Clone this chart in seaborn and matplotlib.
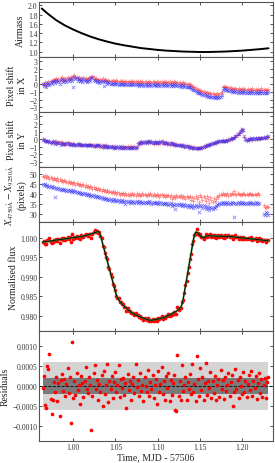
import numpy as np
import pandas as pd
import matplotlib
matplotlib.use("Agg")
import matplotlib.pyplot as plt
import seaborn as sns
from matplotlib.ticker import FormatStrFormatter, MultipleLocator

# ---------------- data ----------------
t_start, t_end, n_points = 0.964, 1.2305, 200   # MJD - 57506, regular cadence

airmass_t = [0.963, 0.97, 0.98, 0.99, 1.00, 1.01, 1.02, 1.03, 1.04, 1.05, 1.06, 1.07,
             1.08, 1.09, 1.10, 1.11, 1.12, 1.13, 1.14, 1.15, 1.16, 1.17, 1.18, 1.19,
             1.20, 1.21, 1.22, 1.231]
airmass = [1.93, 1.82, 1.68, 1.57, 1.48, 1.40, 1.33, 1.27, 1.22, 1.175, 1.14, 1.11,
           1.08, 1.06, 1.04, 1.025, 1.015, 1.005, 1.00, 0.995, 0.995, 1.00, 1.005, 1.015,
           1.025, 1.04, 1.055, 1.075]

shift_x_red = [
    0.1, 0.0, 0.3, -0.2, 0.2, 0.4, 0.1, 0.5, 0.3, 0.6,
    0.7, 0.5, 0.8, 0.6, 0.7, 0.4, 0.8, 0.9, 0.6, 0.7,
    0.8, 0.6, 0.9, 0.7, 0.8, 1.0, 0.7, 1.1, 1.2, 0.9,
    1.0, 0.8, 0.9, 0.7, 0.8, 0.6, 0.9, 0.7, 0.8, 0.6,
    0.7, 0.9, 0.8, 1.0, 1.1, 0.9, 0.7, 0.8, 0.6, 0.7,
    0.5, 0.7, 0.6, 0.8, 0.5, 0.7, 0.6, 0.4, 0.6, 0.5,
    0.5, 0.4, 0.6, 0.5, 0.4, 0.6, 0.5, 0.3, 0.5, 0.4,
    0.4, 0.5, 0.3, 0.4, 0.5, 0.3, 0.4, 0.3, 0.5, 0.4,
    0.3, 0.4, 0.5, 0.3, 0.4, 0.2, 0.4, 0.3, 0.4, 0.2,
    0.3, 0.4, 0.2, 0.3, 0.4, 0.3, 0.2, 0.4, 0.3, 0.3,
    0.2, 0.4, 0.3, 0.2, 0.3, 0.4, 0.2, 0.3, 0.5, 0.3,
    0.2, 0.3, 0.4, 0.2, 0.3, 0.2, 0.4, 0.3, 0.2, 0.3,
    0.2, 0.3, 0.1, 0.2, 0.3, 0.1, 0.2, 0.0, 0.1, 0.0,
    0.0, -0.1, -0.2, -0.3, -0.4, -0.5, -0.6, -0.7, -0.8, -0.8,
    -0.9, -1.0, -0.9, -1.0, -1.1, -1.0, -1.2, -1.1, -1.2, -1.3,
    -1.2, -1.3, -1.4, -1.3, -1.2, -1.4, -1.3, -1.2, -1.0, -0.4,
    -0.2, -0.3, -0.4, -0.3, -0.5, -0.4, -0.5, -0.6, -0.5, -0.6,
    -0.5, -0.6, -0.7, -0.5, -0.6, -0.7, -0.6, -0.5, -0.7, -0.6,
    -0.7, -0.6, -0.8, -0.6, -0.7, -0.5, -0.7, -0.8, -0.6, -0.7,
    -0.6, -0.8, -0.7, -0.5, -0.7, -0.8, -0.6, -0.7, -0.8, -0.6]

shift_x_blue = [
    0.0, -0.2, 0.1, -0.3, 0.0, 0.2, -0.1, 0.3, 0.1, 0.4,
    0.5, 0.2, 0.6, 0.3, 0.5, 0.1, 0.6, 0.7, 0.3, 0.5,
    0.6, 0.3, 0.7, 0.4, 0.6, 0.8, 0.4, -0.3, 1.0, 0.7,
    0.8, 0.5, 0.7, 0.4, 0.6, 0.3, 0.7, 0.4, 0.6, 0.3,
    0.5, 0.7, 0.5, 0.8, 0.9, 0.6, 0.4, 0.6, 0.3, 0.4,
    0.2, 0.4, 0.3, 0.5, -0.2, 0.4, 0.3, 0.1, 0.3, 0.2,
    0.1, 0.0, 0.2, 0.1, 0.0, 0.2, 0.1, -0.1, 0.1, 0.0,
    0.0, 0.1, -0.1, 0.0, 0.1, -0.1, 0.0, -0.1, 0.1, 0.0,
    -0.1, 0.0, 0.1, -0.1, 0.0, -0.2, 0.0, -0.1, 0.0, -0.2,
    -0.1, 0.0, -0.2, -0.1, 0.0, -0.1, -0.2, 0.0, -0.1, -0.1,
    -0.2, 0.0, -0.1, -0.2, -0.1, 0.0, -0.2, -0.1, 0.1, -0.1,
    -0.2, -0.1, 0.0, -0.2, -0.1, -0.2, 0.0, -0.1, -0.2, -0.1,
    -0.2, -0.1, -0.3, -0.2, -0.1, -0.3, -0.2, -0.4, -0.3, -0.4,
    -0.4, -0.5, -0.6, -0.7, -0.8, -0.9, -1.0, -1.1, -1.2, -1.2,
    -1.3, -1.4, -1.3, -1.4, -1.5, -1.4, -1.6, -1.5, -1.6, -1.7,
    -1.6, -1.7, -1.8, -1.7, -1.6, -1.8, -1.7, -1.6, -1.4, -0.8,
    -0.5, -0.6, -0.8, -0.7, -0.9, -0.8, -0.9, -1.0, -0.9, -1.0,
    -0.9, -1.0, -1.1, -0.9, -1.0, -1.1, -1.0, -0.9, -1.1, -1.0,
    -1.1, -1.0, -1.2, -1.0, -1.1, -0.9, -1.1, -1.2, -1.0, -1.1,
    -1.0, -1.2, -1.1, -0.9, -1.1, -1.2, -1.0, -1.1, -1.2, -1.0]

shift_y_red = [
    0.0, -0.1, -0.2, -0.3, -0.2, -0.4, -0.3, -0.5, -0.4, -0.3,
    -0.4, -0.5, -0.3, -0.6, -0.4, -0.5, -0.6, -0.4, -0.5, -0.7,
    -0.5, -0.6, -0.4, -0.7, -0.5, -0.6, -0.7, -0.5, -0.6, -0.8,
    -0.6, -0.7, -0.5, -0.8, -0.6, -0.7, -0.8, -0.6, -0.7, -0.9,
    -0.7, -0.8, -0.6, -0.9, -0.7, -0.8, -1.0, -0.8, -0.9, -0.7,
    -0.9, -1.0, -0.8, -1.1, -0.9, -1.0, -0.8, -1.1, -0.9, -1.0,
    -1.0, -0.9, -1.0, -1.1, -0.9, -1.0, -0.9, -1.1, -1.0, -1.0,
    -1.1, -0.9, -1.0, -1.2, -1.0, -0.9, -1.1, -1.0, -0.9, -1.1,
    -1.0, -0.9, -1.1, -1.0, -0.5, -0.4, -0.6, -0.3, -0.5, -0.4,
    -0.3, -0.5, -0.4, -0.2, -0.4, -0.5, -0.3, -0.4, -0.6, -0.3,
    -0.5, -0.4, -0.6, -0.3, -0.5, -0.2, -0.4, -0.6, -0.5, -0.4,
    -0.6, -0.5, -0.7, -0.4, -0.6, -0.7, -0.5, -0.8, -0.6, -0.7,
    -0.8, -0.7, -0.9, -0.8, -0.7, -1.0, -0.9, -0.8, -1.0, -1.1,
    -0.9, -1.0, -1.1, -1.2, -1.0, -1.1, -1.3, -1.2, -1.1, -1.2,
    -1.0, -1.1, -0.9, -1.0, -0.8, -0.7, -0.8, -0.6, -0.7, -0.5,
    -0.6, -0.5, -0.4, -0.5, -0.3, -0.4, -0.3, -0.2, -0.3, -0.1,
    -0.2, -0.3, -0.1, -0.2, 0.0, -0.1, 0.1, 0.0, 0.2, 0.3,
    0.3, 0.5, 0.6, 0.8, 1.0, 1.2, 1.4, 1.1, 0.3, -0.1,
    -0.2, 0.0, -0.1, 0.1, 0.0, -0.1, 0.1, 0.0, 0.1, 0.0,
    0.1, 0.2, 0.0, 0.1, 0.2, 0.3, 0.2, 0.3, 0.4, 0.3]

shift_y_blue = [
    -0.1, 0.0, -0.3, -0.2, -0.3, -0.3, -0.4, -0.4, -0.5, -0.4,
    -0.3, -0.6, -0.4, -0.5, -0.5, -0.4, -0.7, -0.5, -0.6, -0.6,
    -0.6, -0.5, -0.5, -0.6, -0.6, -0.7, -0.6, -0.6, -0.7, -0.7,
    -0.7, -0.6, -0.6, -0.7, -0.7, -0.8, -0.7, -0.7, -0.8, -0.8,
    -0.8, -0.7, -0.7, -0.8, -0.8, -0.9, -0.9, -0.7, -0.8, -0.8,
    -0.8, -0.9, -0.9, -1.0, -0.8, -0.9, -0.9, -1.0, -1.0, -0.9,
    -1.0, -1.0, -0.9, -1.1, -1.1, -1.0, -1.0, -1.1, -0.9, -1.0,
    -1.1, -1.1, -1.0, -1.2, -1.0, -1.1, -1.1, -1.0, -1.1, -1.1,
    -1.0, -1.1, -1.1, -1.0, -0.6, -0.5, -0.5, -0.4, -0.4, -0.5,
    -0.4, -0.4, -0.5, -0.3, -0.3, -0.4, -0.4, -0.5, -0.5, -0.4,
    -0.4, -0.5, -0.5, -0.4, -0.4, -0.3, -0.5, -0.5, -0.4, -0.5,
    -0.5, -0.6, -0.6, -0.5, -0.5, -0.6, -0.6, -0.7, -0.7, -0.8,
    -0.7, -0.8, -0.8, -0.9, -0.8, -0.9, -1.0, -0.9, -0.9, -1.0,
    -1.0, -1.1, -1.0, -1.1, -1.1, -1.2, -1.2, -1.1, -1.2, -1.1,
    -1.1, -1.0, -1.0, -0.9, -0.9, -0.8, -0.7, -0.7, -0.6, -0.6,
    -0.5, -0.5, -0.5, -0.4, -0.4, -0.3, -0.3, -0.3, -0.2, -0.2,
    -0.3, -0.2, -0.2, -0.1, -0.1, 0.0, 0.0, 0.1, 0.1, 0.2,
    0.4, 0.4, 0.7, 0.7, 0.9, 1.1, 1.3, 1.2, 0.4, 0.0,
    -0.1, -0.1, 0.0, 0.0, 0.1, 0.0, 0.0, 0.1, 0.0, 0.1,
    0.0, 0.1, 0.1, 0.2, 0.1, 0.2, 0.3, 0.2, 0.3, 0.4]

nan = float("nan")
xdiff_red = [
    49.0, 48.5, 49.5, 48.0, 49.0, 48.5, 47.5, 48.5, 48.0, 47.0,
    48.0, 47.5, 47.0, 48.0, 46.5, 47.5, 46.5, 47.0, 46.0, 47.0,
    46.5, 46.0, 45.5, 46.5, 45.5, 46.0, 45.0, 46.0, 45.5, 44.5,
    45.5, 45.0, 44.5, 45.0, 44.0, 45.0, 44.5, 43.5, 44.5, 43.5,
    44.0, 43.0, 44.0, 43.5, 42.5, 43.5, 42.5, 43.0, 42.0, 43.0,
    42.0, 42.5, 41.5, 42.5, 41.5, 42.0, 41.0, 42.0, 41.0, 41.5,
    41.0, 40.5, 41.5, 40.5, 41.0, 40.0, 41.0, 40.5, 39.5, 40.5,
    40.0, 40.5, 39.5, 40.5, 39.5, 40.0, 39.0, 40.0, 39.5, 40.5,
    39.5, 40.0, 39.0, 40.5, 39.5, 40.0, 39.0, 39.5, 40.5, 39.5,
    40.0, 39.5, 39.0, 40.0, 39.5, 40.5, 39.5, 39.0, 40.0, 39.5,
    39.0, 40.0, 39.5, 38.5, 39.5, 40.0, 39.0, 39.5, 38.5, 39.5,
    39.0, 39.5, 38.5, 39.5, 37.5, 38.5, 39.0, 38.0, 39.5, 38.5,
    39.0, 38.5, 39.5, 38.0, 39.0, 38.5, 37.5, 39.0, 38.5, 38.0,
    39.0, 37.0, 38.5, 36.5, 38.0, 39.0, 37.5, 38.5, 36.0, 39.5,
    38.5, 37.0, 39.0, 38.0, 36.5, 39.0, 37.5, 35.5, 38.5, 37.0,
    36.0, 38.0, 36.5, 37.5, 39.0, 38.5, 39.5, 40.0, 39.5, 40.5,
    39.5, 40.0, 39.5, 40.5, 39.0, 40.0, 39.5, 40.5, 40.0, 41.5,
    40.0, 39.5, 40.5, 40.0, 39.5, 40.0, 39.5, 40.5, 40.0, 39.5,
    40.0, 39.5, 40.0, 40.5, 39.5, 40.0, 39.5, 40.0, 39.5, 40.0,
    40.5, 39.5, nan, nan, nan, 34.5, 33.5, 33.0, 34.0, 33.5]

xdiff_blue = [
    45.0, 44.5, 45.0, 44.0, 44.5, 43.5, 44.0, 43.5, 44.0, 43.0,
    43.5, 38.5, 43.0, 42.5, 43.0, 42.5, 42.0, 42.5, 42.0, 42.5,
    42.0, 41.5, 42.0, 41.5, 42.0, 41.5, 41.0, 42.0, 41.0, 41.5,
    41.0, 40.5, 41.0, 40.5, 40.0, 40.5, 40.0, 40.5, 39.5, 40.0,
    39.5, 40.0, 39.0, 39.5, 39.0, 39.5, 38.5, 39.0, 38.5, 39.0,
    38.5, 38.0, 38.5, 37.5, 38.0, 37.5, 38.0, 37.0, 37.5, 37.0,
    37.5, 36.5, 37.0, 37.5, 36.5, 37.0, 36.5, 37.0, 36.0, 36.5,
    37.0, 36.0, 36.5, 35.0, 36.5, 36.0, 36.5, 35.5, 36.0, 36.5,
    36.0, 35.5, 36.0, 36.5, 35.5, 36.0, 36.5, 35.5, 36.0, 35.5,
    36.0, 35.5, 36.0, 35.5, 36.5, 36.0, 35.0, 35.5, 36.0, 35.5,
    35.5, 36.0, 35.0, 35.5, 36.0, 35.0, 35.5, 35.0, 35.5, 35.0,
    35.5, 34.5, 35.0, 35.5, 34.0, 35.0, 34.5, 32.5, 35.0, 34.5,
    35.0, 34.5, 35.0, 34.0, 34.5, 35.0, 34.0, 34.5, 33.5, 34.5,
    34.0, 33.5, 34.5, 33.0, 34.0, 34.5, 33.5, 34.0, 31.0, 34.5,
    34.0, 33.0, 34.5, 33.5, 32.5, 34.0, 33.0, 32.0, 33.5, 33.0,
    32.5, 33.5, 33.0, 34.0, 35.0, 34.5, 35.5, 35.0, 35.5, 36.0,
    35.5, 35.0, 35.5, 36.0, 35.0, 35.5, 35.0, 36.0, 35.5, 28.3,
    35.5, 35.0, 35.5, 36.0, 35.0, 35.5, 36.0, 35.5, 35.0, 35.5,
    35.5, 35.0, 35.5, 36.0, 35.5, 35.0, 35.5, 35.0, 36.0, 35.5,
    35.0, 35.5, nan, nan, nan, 30.0, 29.5, 31.0, 30.5, 29.5]

flux_model = [
    0.99895, 0.99898, 0.99900, 0.99903, 0.99907, 0.99912, 0.99917, 0.99922, 0.99928, 0.99933,
    0.99938, 0.99942, 0.99946, 0.99950, 0.99953, 0.99956, 0.99960, 0.99964, 0.99968, 0.99972,
    0.99976, 0.99980, 0.99984, 0.99988, 0.99992, 0.99996, 1.00000, 1.00004, 1.00008, 1.00012,
    1.00016, 1.00020, 1.00025, 1.00030, 1.00036, 1.00042, 1.00048, 1.00055, 1.00062, 1.00070,
    1.00078, 1.00088, 1.00098, 1.00108, 1.00118, 1.00128, 1.00138, 1.00148, 1.00158, 1.00165,
    1.00140, 1.00070, 0.99960, 0.99850, 0.99740, 0.99630, 0.99520, 0.99410, 0.99300, 0.99190,
    0.99080, 0.98970, 0.98860, 0.98750, 0.98640, 0.98540, 0.98470, 0.98420, 0.98375, 0.98340,
    0.98308, 0.98278, 0.98250, 0.98222, 0.98196, 0.98171, 0.98146, 0.98122, 0.98100, 0.98080,
    0.98060, 0.98044, 0.98030, 0.98016, 0.98004, 0.97992, 0.97980, 0.97968, 0.97956, 0.97944,
    0.97935, 0.97924, 0.97912, 0.97902, 0.97895, 0.97890, 0.97892, 0.97896, 0.97900, 0.97905,
    0.97910, 0.97916, 0.97922, 0.97930, 0.97938, 0.97946, 0.97955, 0.97964, 0.97974, 0.97986,
    0.98000, 0.98013, 0.98026, 0.98040, 0.98055, 0.98070, 0.98087, 0.98105, 0.98125, 0.98147,
    0.98170, 0.98196, 0.98230, 0.98300, 0.98426, 0.98590, 0.98760, 0.98930, 0.99100, 0.99270,
    0.99440, 0.99610, 0.99780, 0.99940, 1.00080, 1.00150, 1.00145, 1.00120, 1.00090, 1.00060,
    1.00030, 1.00010, 1.00005, 1.00020, 1.00040, 1.00050, 1.00055, 1.00055, 1.00052, 1.00050,
    1.00048, 1.00047, 1.00046, 1.00045, 1.00044, 1.00044, 1.00043, 1.00042, 1.00041, 1.00040,
    1.00040, 1.00040, 1.00039, 1.00038, 1.00037, 1.00036, 1.00034, 1.00032, 1.00030, 1.00027,
    1.00024, 1.00020, 1.00016, 1.00012, 1.00008, 1.00004, 1.00000, 0.99997, 0.99994, 0.99991,
    0.99988, 0.99985, 0.99982, 0.99979, 0.99976, 0.99973, 0.99970, 0.99967, 0.99964, 0.99961,
    0.99958, 0.99955, 0.99952, 0.99949, 0.99946, 0.99942, 0.99938, 0.99934, 0.99930, 0.99926]

# residuals (data - model), in units of 1e-4
residuals_1e4 = [
    -0.5, 2.5, -4.8, -5.6, 5.0, 4.2, 8.0, -3.2, -7.0, -3.6,
    1.0, -1.5, 2.2, -3.8, 0.8, -7.5, 1.6, 3.0, -1.2, 1.8,
    -2.6, 0.5, 4.5, -1.8, 2.4, -9.2, 11.0, -3.0, 1.4, -2.2,
    3.2, -1.0, 0.2, -4.6, 2.6, 0.8, -2.8, 1.2, 4.8, -0.6,
    -1.8, 2.2, 0.4, -11.0, -2.4, 3.4, 5.2, -0.8, 1.6, -3.4,
    0.6, -1.4, 2.8, -5.0, 3.8, -2.0, 0.4, 5.5, -4.0, 1.2,
    -0.6, 2.6, -3.0, 1.0, 3.6, -1.6, 0.2, 5.4, -2.8, 1.8,
    -0.4, 2.0, -2.2, 0.8, -5.5, 3.0, -1.0, 1.4, -3.4, 0.6,
    2.2, -1.8, 5.5, -0.2, 1.6, -2.6, 3.2, -1.2, 0.4, -3.8,
    2.4, 0.0, -1.4, 4.0, -2.4, 1.0, -0.8, 2.8, -3.0, 0.2,
    1.8, -4.6, 3.8, -1.6, 0.6, 4.8, -2.0, 1.2, -3.6, 2.6,
    -0.4, 3.4, -3.8, 1.6, -2.2, 0.8, 2.8, -6.0, -6.2, 7.8,
    -2.4, 1.4, -3.6, 5.4, -1.2, 0.4, 2.2, -3.4, 1.0, -0.6,
    3.0, -2.0, 5.5, -1.4, 0.6, -3.8, 7.5, 1.8, -2.6, 4.6,
    -1.0, 2.4, -3.4, 0.8, 5.8, -2.2, 1.2, -0.4, 3.6, -3.0,
    1.4, -1.8, 2.6, -3.6, 0.2, 1.8, -2.8, 4.0, -0.8, 1.6,
    -3.2, 2.2, -1.2, 0.4, 3.4, -2.4, 1.0, 2.8, -5.0, -1.6,
    4.4, -0.6, 1.6, -3.0, 2.4, 0.0, -2.0, 3.6, -1.4, 1.2,
    -2.8, 0.6, 2.8, -1.0, 3.8, -2.6, 1.4, -0.4, 2.6, -3.2,
    0.8, 3.2, -1.8, 1.8, -2.8, 0.4, 2.0, -3.0, 1.0, 2.4]

band_inner = 0.0002   # residual scatter bands
band_outer = 0.0006

# ---------------- build frame ----------------
t = np.linspace(t_start, t_end, n_points)
df = pd.DataFrame({
    "t": t,
    "xr": shift_x_red, "xb": shift_x_blue,
    "yr": shift_y_red, "yb": shift_y_blue,
    "dr": xdiff_red, "db": xdiff_blue,
    "model": flux_model,
    "resid": np.array(residuals_1e4) * 1e-4,
})
df["flux"] = df["model"] + df["resid"]
am = pd.DataFrame({"t": airmass_t, "airmass": airmass})

# ---------------- style ----------------
sns.set_theme(style="ticks")
plt.rcParams["font.family"] = ["Liberation Serif", "DejaVu Serif"]
plt.rcParams["mathtext.fontset"] = "stix"
plt.rcParams["axes.edgecolor"] = "#555555"
plt.rcParams["axes.linewidth"] = 0.8

fig = plt.figure(figsize=(2.75, 4.64), dpi=100)
gs = fig.add_gridspec(6, 1, height_ratios=[1, 1, 1, 1, 2, 2],
                      left=0.1436, right=0.991, top=0.9935, bottom=0.0474, hspace=0)
axes = [fig.add_subplot(gs[0])]
for k in range(1, 6):
    axes.append(fig.add_subplot(gs[k], sharex=axes[0]))

LAB = 7
TICK = 5.5
RED = "#ff3b3b"
BLUE = "#2a2aff"

# 1 airmass
ax = axes[0]
sns.lineplot(data=am, x="t", y="airmass", ax=ax, color="black", lw=1.4)
ax.set_ylim(0.89, 2.07)
ax.yaxis.set_major_locator(MultipleLocator(0.2))
ax.yaxis.set_major_formatter(FormatStrFormatter("%.1f"))
ax.set_ylabel("Airmass", fontsize=LAB)

# 2 pixel shift X
ax = axes[1]
sns.scatterplot(data=df, x="t", y="xr", ax=ax, marker="+", color=RED, s=9, linewidth=0.55, alpha=0.6)
sns.scatterplot(data=df, x="t", y="xb", ax=ax, marker="x", color=BLUE, s=6, linewidth=0.55, alpha=0.6)
ax.set_ylim(-3.6, 3.6)
ax.yaxis.set_major_locator(MultipleLocator(1))
ax.set_ylabel("Pixel shift\nin X", fontsize=LAB)

# 3 pixel shift Y
ax = axes[2]
sns.scatterplot(data=df, x="t", y="yr", ax=ax, marker="+", color=RED, s=9, linewidth=0.55, alpha=0.6)
sns.scatterplot(data=df, x="t", y="yb", ax=ax, marker="x", color=BLUE, s=6, linewidth=0.55, alpha=0.6)
ax.set_ylim(-3.6, 3.6)
ax.yaxis.set_major_locator(MultipleLocator(1))
ax.set_ylabel("Pixel shift\nin Y", fontsize=LAB)

# 4 x difference
ax = axes[3]
sns.scatterplot(data=df, x="t", y="dr", ax=ax, marker="+", color=RED, s=9, linewidth=0.55, alpha=0.6)
sns.scatterplot(data=df, x="t", y="db", ax=ax, marker="x", color=BLUE, s=6, linewidth=0.55, alpha=0.6)
ax.set_ylim(26, 54)
ax.yaxis.set_major_locator(MultipleLocator(5))
ax.set_ylabel("$X_{4750\\mathrm{\\AA}} - X_{9250\\mathrm{\\AA}}$\n(pixels)", fontsize=LAB)

# 5 flux
ax = axes[4]
sns.scatterplot(data=df, x="t", y="flux", ax=ax, marker="o", color="red", s=7, linewidth=0)
sns.lineplot(data=df, x="t", y="model", ax=ax, color="#3a8a3a", lw=1.3)
sns.lineplot(data=df, x="t", y="model", ax=ax, color="black", lw=0.6)
ax.set_ylim(0.9761, 1.0042)
ax.yaxis.set_major_locator(MultipleLocator(0.005))
ax.yaxis.set_major_formatter(FormatStrFormatter("%.3f"))
ax.set_ylabel("Normalised flux", fontsize=LAB)

# 6 residuals
ax = axes[5]
ax.fill_between(df["t"], -band_outer, band_outer, color="#d4d4d4", lw=0, zorder=0)
ax.fill_between(df["t"], -band_inner, band_inner, color="#7a7a7a", lw=0, zorder=0.5)
ax.axhline(0, color="black", ls="--", lw=0.6, zorder=1)
sns.scatterplot(data=df, x="t", y="resid", ax=ax, marker="o", color="red", s=7, linewidth=0, zorder=2)
ax.set_ylim(-0.00138, 0.00138)
ax.yaxis.set_major_locator(MultipleLocator(0.0005))
ax.yaxis.set_major_formatter(matplotlib.ticker.FuncFormatter(
    lambda v, p: ("%.4f" % v).replace("-", "\u2212") if abs(v) > 1e-9 else "0.0000"))
ax.set_ylabel("Residuals", fontsize=LAB)
ax.set_xlabel("Time, MJD - 57506", fontsize=LAB, labelpad=1)

axes[0].set_xlim(0.9603, 1.2357)
axes[0].xaxis.set_major_locator(MultipleLocator(0.05))
axes[5].xaxis.set_major_formatter(FormatStrFormatter("%.2f"))

for k, ax in enumerate(axes):
    ax.tick_params(direction="in", top=True, right=True, labelsize=TICK,
                   length=2.5, width=0.6, pad=1.5, colors="#333333")
    ax.yaxis.label.set_color("#222222")
    if k < 5:
        ax.tick_params(labelbottom=False)
        ax.set_xlabel("")
    ax.yaxis.labelpad = 2

fig.savefig("out.png", dpi=100)
